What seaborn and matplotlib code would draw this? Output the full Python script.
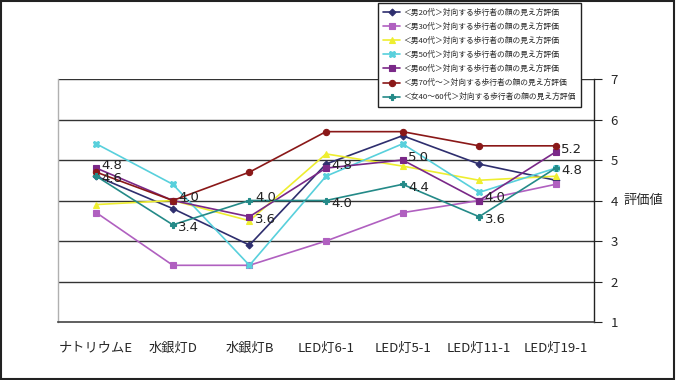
import pandas as pd
import seaborn as sns
import matplotlib.pyplot as plt
from matplotlib.patches import Rectangle

# categories and series values
categories = ['ナトリウムE', '水銀灯D', '水銀灯B', 'LED灯6-1', 'LED灯5-1', 'LED灯11-1', 'LED灯19-1']
series_names = [
    '＜男20代＞対向する歩行者の顔の見え方評価',
    '＜男30代＞対向する歩行者の顔の見え方評価',
    '＜男40代＞対向する歩行者の顔の見え方評価',
    '＜男50代＞対向する歩行者の顔の見え方評価',
    '＜男60代＞対向する歩行者の顔の見え方評価',
    '＜男70代～＞対向する歩行者の顔の見え方評価',
    '＜女40～60代＞対向する歩行者の顔の見え方評価',
]
male20 = [4.6, 3.8, 2.9, 4.9, 5.6, 4.9, 4.5]
male30 = [3.7, 2.4, 2.4, 3.0, 3.7, 4.0, 4.4]
male40 = [3.9, 4.0, 3.5, 5.15, 4.85, 4.5, 4.6]
male50 = [5.4, 4.4, 2.4, 4.6, 5.4, 4.2, 4.8]
male60 = [4.8, 4.0, 3.6, 4.8, 5.0, 4.0, 5.2]
male70 = [4.7, 4.0, 4.7, 5.7, 5.7, 5.35, 5.35]
female = [4.6, 3.4, 4.0, 4.0, 4.4, 3.6, 4.8]
all_values = [male20, male30, male40, male50, male60, male70, female]

colors = ['#2e2e6e', '#b060c0', '#eeee30', '#58d0dc', '#7a2888', '#8a1818', '#248a88']
markers = ['D', 's', '^', 'X', 's', 'o', 'P']
marker_sizes = [3.5, 4, 4.5, 5, 4, 4.5, 5]

# long table for seaborn
rows = []
for name, vals in zip(series_names, all_values):
    for i, v in enumerate(vals):
        rows.append({'series': name, 'x': i, 'value': v})
df = pd.DataFrame(rows)

sns.set_style('white')
plt.rcParams['font.family'] = ['Noto Sans CJK JP', 'DejaVu Sans']

fig = plt.figure(figsize=(6.76, 3.8), dpi=100)
ax = fig.add_axes([0.0858, 0.1526, 0.7929, 0.6395])

for name, col, mk, ms in zip(series_names, colors, markers, marker_sizes):
    sub = df[df['series'] == name]
    sns.lineplot(data=sub, x='x', y='value', ax=ax, color=col, marker=mk,
                 markersize=ms, markeredgewidth=0.8, markeredgecolor=col,
                 linewidth=1.2, label=name, zorder=3)

# data labels for 男60代 and 女40~60代, the higher one nudged up, the lower one down
for i, (a, b) in enumerate(zip(male60, female)):
    shift = 2 if a >= b else -2
    for v, dy in [(a, shift), (b, -shift)]:
        ax.annotate(f'{v:.1f}', (i, v), xytext=(4, dy), textcoords='offset points',
                    va='center', ha='left', fontsize=9.5, family='DejaVu Sans',
                    color='#222222', zorder=4)

ax.set_xlim(-0.5, 6.5)
ax.set_ylim(1, 7)
ax.set_xticks(range(len(categories)))
ax.set_xticklabels(categories, fontsize=9.5)
ax.set_xticks([i - 0.5 for i in range(len(categories) + 1)], minor=True)
ax.tick_params(axis='x', which='major', length=0, pad=14)
ax.tick_params(axis='x', which='minor', length=5, width=0.8, color='#444444', direction='out')
ax.set_xlabel('')

ax.yaxis.tick_right()
ax.yaxis.set_label_position('right')
ax.set_yticks(range(1, 8))
ax.tick_params(axis='y', length=6, width=0.8, color='#222222', labelsize=9.5, pad=6, right=True)
ax.set_ylabel('評価値', rotation=0, fontsize=9.5, labelpad=18, va='center')

for y in range(2, 8):
    ax.axhline(y, color='#333333', linewidth=1.0, zorder=1)

ax.spines['top'].set_visible(False)
ax.spines['left'].set_color('#b0b0b0')
ax.spines['left'].set_linewidth(1.0)
ax.spines['right'].set_color('#222222')
ax.spines['right'].set_linewidth(1.0)
ax.spines['bottom'].set_color('#444444')
ax.spines['bottom'].set_linewidth(1.2)

leg = ax.legend(loc='upper left', bbox_to_anchor=(0.559, 0.992), bbox_transform=fig.transFigure,
                fontsize=5.6, frameon=True, fancybox=False, framealpha=1, edgecolor='#222222',
                handlelength=2.2, labelspacing=0.78, borderpad=0.7, handletextpad=0.4,
                borderaxespad=0)
leg.get_frame().set_linewidth(1.0)
leg.set_zorder(10)

# outer border
fig.patches.append(Rectangle((0.002, 0.003), 0.995, 0.994, transform=fig.transFigure,
                             fill=False, edgecolor='#222222', linewidth=1.5))

fig.savefig('out.png', dpi=100)
